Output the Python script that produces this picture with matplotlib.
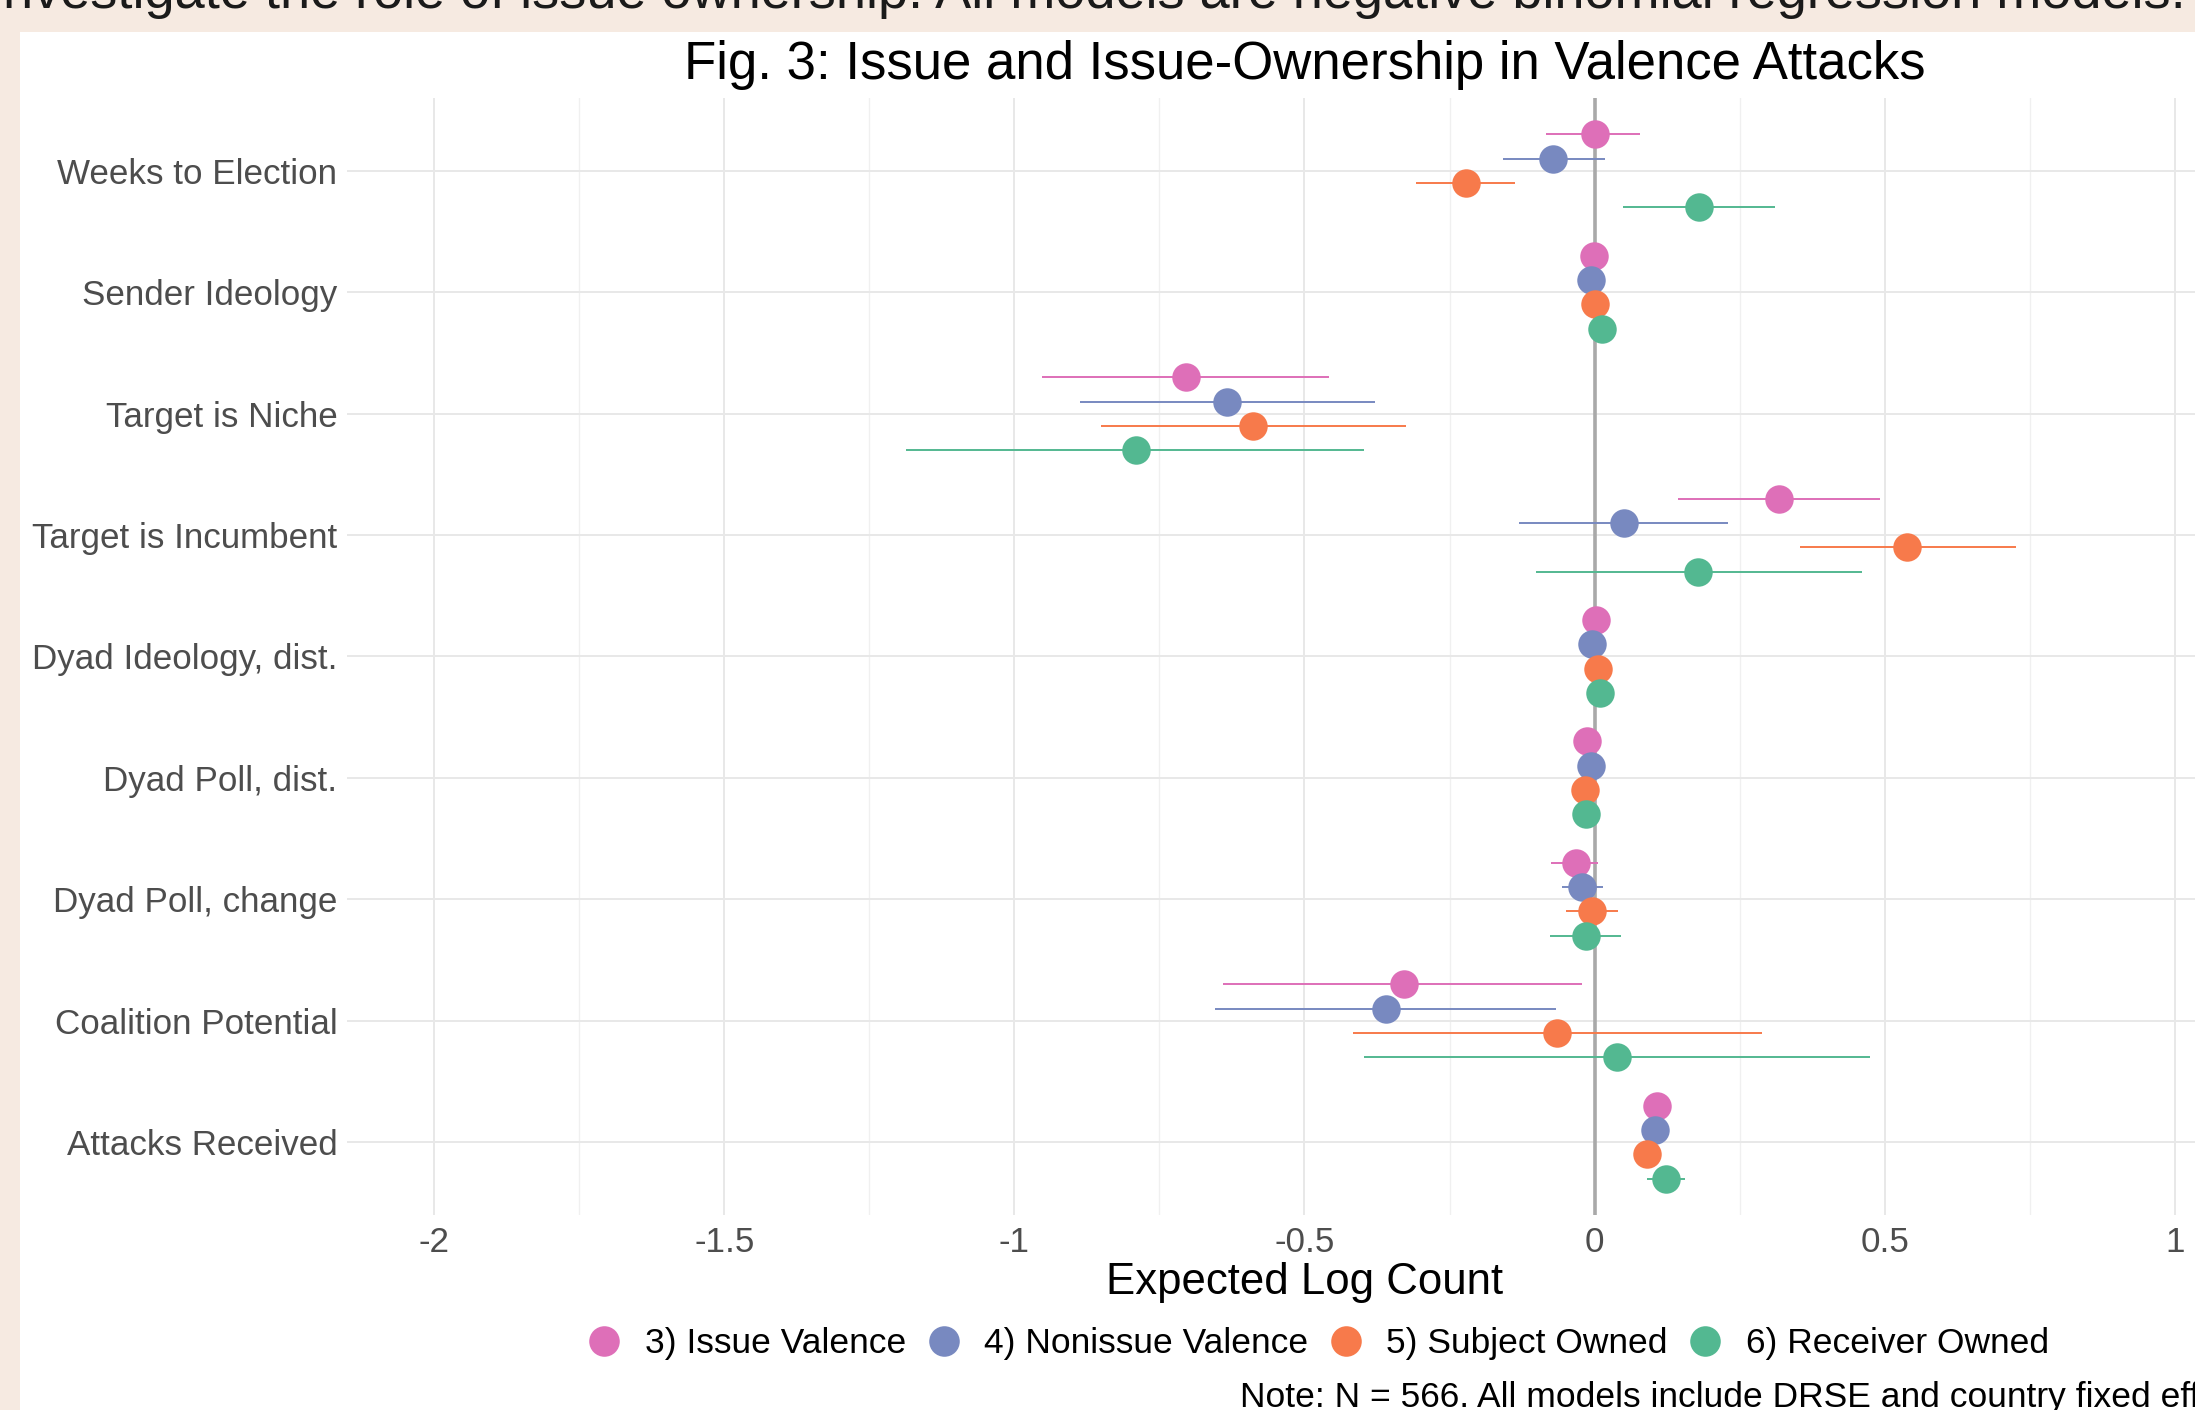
import numpy as np
import matplotlib.pyplot as plt
from matplotlib.lines import Line2D
from matplotlib.patches import Rectangle

plt.rcParams['font.family'] = ['Liberation Sans', 'DejaVu Sans']

# coefficient estimates with 95% intervals, one list per model
terms = ["Weeks to Election", "Sender Ideology", "Target is Niche", "Target is Incumbent",
         "Dyad Ideology, dist.", "Dyad Poll, dist.", "Dyad Poll, change",
         "Coalition Potential", "Attacks Received"]
models = ["3) Issue Valence", "4) Nonissue Valence", "5) Subject Owned", "6) Receiver Owned"]
colors = ["#de6fb8", "#7889c0", "#f77a4b", "#53b891"]

est_issue = [0.000, -0.001, -0.704, 0.317, 0.002, -0.014, -0.033, -0.328, 0.107]
lo_issue = [-0.084, -0.012, -0.952, 0.144, -0.010, -0.025, -0.075, -0.641, 0.095]
hi_issue = [0.079, 0.010, -0.458, 0.492, 0.014, -0.003, 0.006, -0.022, 0.119]

est_nonissue = [-0.071, -0.007, -0.634, 0.050, -0.005, -0.006, -0.021, -0.359, 0.104]
lo_nonissue = [-0.158, -0.018, -0.887, -0.131, -0.016, -0.017, -0.056, -0.655, 0.092]
hi_nonissue = [0.018, 0.004, -0.378, 0.230, 0.006, 0.005, 0.014, -0.067, 0.116]

est_subject = [-0.222, 0.001, -0.588, 0.539, 0.005, -0.017, -0.005, -0.065, 0.091]
lo_subject = [-0.307, -0.010, -0.851, 0.354, -0.006, -0.028, -0.050, -0.417, 0.079]
hi_subject = [-0.137, 0.012, -0.325, 0.726, 0.016, -0.006, 0.041, 0.289, 0.103]

est_receiver = [0.179, 0.012, -0.790, 0.178, 0.010, -0.015, -0.015, 0.038, 0.123]
lo_receiver = [0.048, 0.001, -1.186, -0.101, -0.001, -0.026, -0.077, -0.398, 0.090]
hi_receiver = [0.311, 0.023, -0.398, 0.460, 0.021, -0.004, 0.046, 0.475, 0.156]

estimates = [est_issue, est_nonissue, est_subject, est_receiver]
lowers = [lo_issue, lo_nonissue, lo_subject, lo_receiver]
uppers = [hi_issue, hi_nonissue, hi_subject, hi_receiver]

fig = plt.figure(figsize=(21.95, 14.10), dpi=100, facecolor="#f6eae1")
fig.patches.append(Rectangle((20 / 2195, 0), 1, 1 - 32 / 1410, transform=fig.transFigure,
                             facecolor="white", edgecolor="none", zorder=-5))

# caption line above the figure, partly outside the canvas
fig.text(-0.004, 1 - 8 / 1410, "investigate the role of issue ownership. All models are negative binomial regression models.",
         fontsize=39, color="#1a1a1a", ha="left", va="baseline")

ax = fig.add_axes([347 / 2195, 1 - 1215 / 1410, 1915 / 2195, 1117 / 1410])
ax.set_zorder(2)
ax.set_facecolor("none")

n = len(terms)
base = np.arange(n, 0, -1)
offsets = [0.3, 0.1, -0.1, -0.3]
for est, lo, hi, col, off in zip(estimates, lowers, uppers, colors, offsets):
    y = base + off
    ax.hlines(y, lo, hi, color=col, lw=1.4, zorder=3)
    ax.plot(est, y, "o", color=col, markersize=20.5, markeredgewidth=0, zorder=4)

ax.axvline(0, color="#a9a9a9", lw=2.6, zorder=2)

ax.set_xlim(-2.15, 1.15)
ax.set_ylim(0.4, n + 0.6)
ax.set_xticks(np.arange(-2, 1.01, 0.5))
ax.set_xticklabels(["-2", "-1.5", "-1", "-0.5", "0", "0.5", "1"])
ax.set_xticks(np.arange(-1.75, 1.01, 0.5), minor=True)
ax.set_yticks(base)
ax.set_yticklabels(terms)
ax.tick_params(axis="both", which="both", length=0, labelsize=25.2, colors="#4d4d4d")
ax.tick_params(axis="y", pad=7)
ax.tick_params(axis="x", pad=8)
ax.grid(True, which="major", color="#e8e8e8", lw=1.4)
ax.grid(True, which="minor", axis="x", color="#f0f0f0", lw=1.0)
ax.set_axisbelow(True)
for s in ax.spines.values():
    s.set_visible(False)

ax.set_xlabel("Expected Log Count", fontsize=31.5, color="black", labelpad=2)
ax.set_title("Fig. 3: Issue and Issue-Ownership in Valence Attacks", fontsize=38, color="black", pad=14)

handles = [Line2D([], [], marker="o", ls="none", color=c, markersize=22, markeredgewidth=0) for c in colors]
fig.legend(handles, models, loc="center", bbox_to_anchor=(1316 / 2195, 1 - 1344 / 1410), ncol=4,
           frameon=False, fontsize=25.5, handletextpad=0.55, columnspacing=0.45, handlelength=1.2)

fig.text(1240 / 2195, 1 - 1397 / 1410, "Note: N = 566. All models include DRSE and country fixed effects.",
         fontsize=25.5, color="black", ha="left", va="center")

fig.savefig("out.png", dpi=100)
plt.close(fig)
